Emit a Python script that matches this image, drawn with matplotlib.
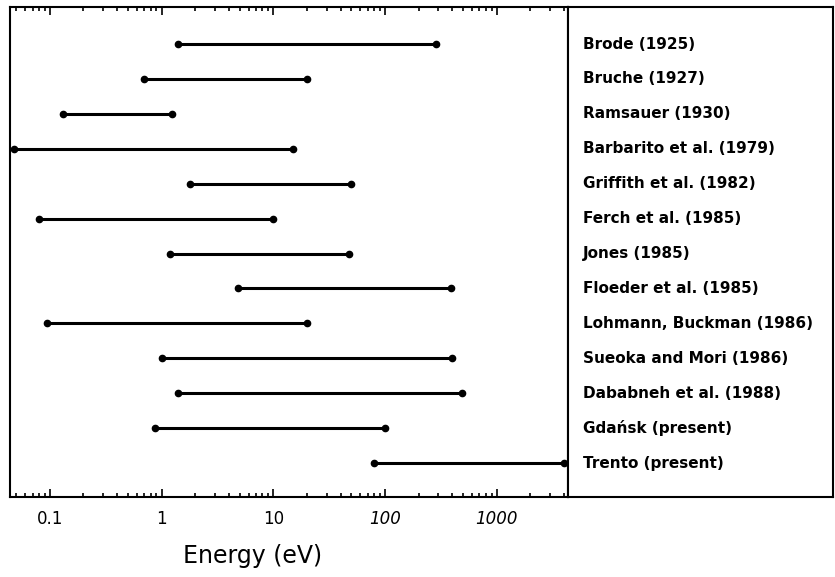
import numpy as np
import matplotlib.pyplot as plt
from matplotlib.ticker import LogLocator, NullFormatter

labels = ['Brode (1925)', 'Bruche (1927)', 'Ramsauer (1930)',
          'Barbarito et al. (1979)', 'Griffith et al. (1982)',
          'Ferch et al. (1985)', 'Jones (1985)', 'Floeder et al. (1985)',
          'Lohmann, Buckman (1986)', 'Sueoka and Mori (1986)',
          'Dababneh et al. (1988)', 'Gdańsk (present)', 'Trento (present)']
e_low = [1.4, 0.7, 0.13, 0.048, 1.8, 0.08, 1.2, 4.8, 0.095, 1.0, 1.4, 0.87, 80]
e_high = [285, 20, 1.24, 15, 50, 10, 48, 390, 20, 400, 490, 100, 4000]
tick_vals = [0.1, 1, 10, 100, 1000]
tick_text = ['0.1', '1', '10', '100', '1000']

fig = plt.figure(figsize=(8.35, 5.77), dpi=100)
ax = fig.add_axes([10/835, 80/577, 558/835, 490/577])
ax2 = fig.add_axes([568/835, 80/577, 265/835, 490/577])

rows = np.arange(len(labels))
for i in rows:
    ax.plot([e_low[i], e_high[i]], [i, i], color='black', lw=2.2,
            marker='o', ms=4.5, solid_capstyle='butt')

ax.set_xscale('log')
ax.set_xlim(0.044, 4340)
ax.set_ylim(len(labels) - 0.03, -1.06)
ax.set_yticks([])
ax.xaxis.set_major_locator(LogLocator(base=10, numticks=20))
ax.xaxis.set_minor_locator(LogLocator(base=10, subs=np.arange(2, 10), numticks=20))
ax.xaxis.set_minor_formatter(NullFormatter())
ax.set_xticks(tick_vals)
ax.set_xticklabels(tick_text, fontsize=12)
for lab in ax.get_xticklabels()[3:]:
    lab.set_style('italic')
ax.tick_params(axis='x', which='both', direction='in', top=True, bottom=True, width=1.2)
ax.tick_params(axis='x', which='major', length=6, pad=9)
ax.tick_params(axis='x', which='minor', length=3)
ax.set_xlabel('Energy (eV)', fontsize=17, labelpad=12, x=0.435)
for s in ax.spines.values():
    s.set_linewidth(1.5)

ax2.set_ylim(ax.get_ylim())
ax2.set_xlim(0, 1)
ax2.set_xticks([])
ax2.set_yticks([])
for s in ax2.spines.values():
    s.set_linewidth(1.5)
for i in rows:
    ax2.text(0.057, i, labels[i], fontsize=11, fontweight='bold', va='center')

fig.savefig('out.png', dpi=100)
